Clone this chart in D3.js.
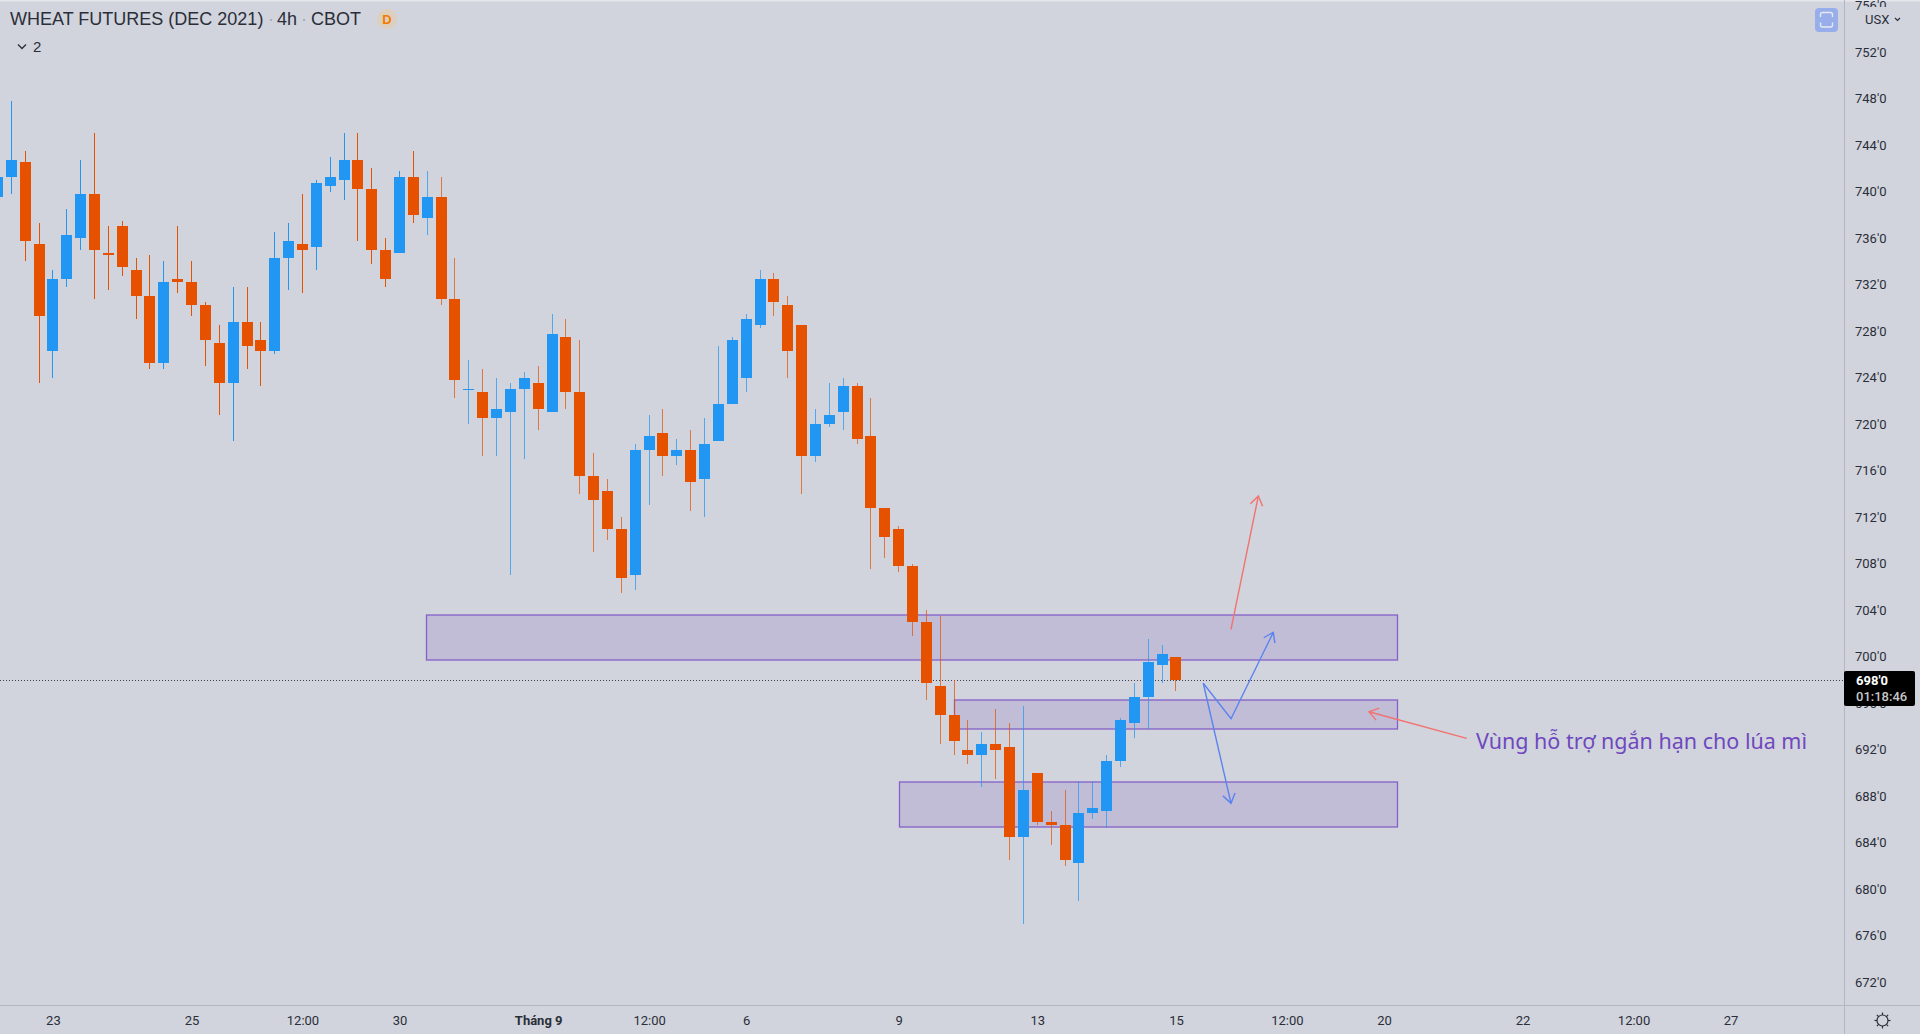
<!DOCTYPE html>
<html>
<head>
<meta charset="utf-8">
<title>Wheat Futures 4h</title>
<script src="https://cdn.jsdelivr.net/npm/d3@7"></script>
<style>
  html, body { margin: 0; padding: 0; background: #d1d4dc; overflow: hidden; }
  svg { display: block; }
  text { font-family: "Liberation Sans", Arial, sans-serif; }
  .axis path, .axis line { display: none; }
  .axis text { font-family: Roboto, sans-serif; font-size: 13px; fill: #2a2e39; }
  .axis .major { font-weight: 700; }
</style>
</head>
<body>
<svg id="chart" width="1920" height="1034"></svg>
<script>
// Wheat futures, December 2021 contract, 4-hour candles (US cents per bushel)
const opens = [739.5,741.25,742.5,735.5,726.25,732.5,736,739.75,734.75,737,733.25,731,725.25,732.5,732.25,730.25,727,723.5,728.75,727.25,726.25,734.25,735.5,735.25,740.5,741,742.75,740.25,735,734.75,741.25,737.75,739.5,730.75,723,722.75,720.5,721,723,723.5,721,727.5,722.75,715.5,714.25,711,707,717.75,719.25,717.25,717.75,715.25,718.5,721.75,724,728.5,732.5,730.25,728.5,717.25,720,721,723.25,719,712.75,711,707.75,703,697.5,695,692,691.5,692.5,692.25,684.5,690,685.75,685.5,682.25,686.5,686.75,691,694.25,696.5,699.25,700];
const highs = [741.5,747.75,743.5,737.25,733.25,738.5,742.75,745,737,737.5,734.25,734.5,734,737,734,730.5,728.5,731.75,731.75,728.75,736.5,737.25,739.75,741,743,745,745,742,736,741.75,743.5,741.75,741.25,734.25,725.5,724.75,724,723.5,724.5,725,729.5,729,727.25,717.5,715.25,712,718.25,720.75,721.25,718.75,719.5,720.5,726.75,727.5,729.5,733.25,733,731,728.5,721.25,723.5,724,723.5,722.25,712.75,711.25,708,704,703.5,698,694.5,693.5,695.5,694.25,695.75,690,686.75,688.5,689.25,689.25,691.5,694.75,697.75,701.5,701,700];
const lows = [739.25,739.75,734,723.5,724,731.75,735,730.75,731.5,732.75,729,724.75,724.75,731.25,729.25,725,720.75,718.5,724.75,723.25,726,731.5,731.25,733.25,740,739.25,735.75,733.75,731.75,734.75,737.25,736.25,730.25,722.25,720,717.25,717.25,707,717,719.5,721,721.25,714,709,710,705.5,705.75,713,715.5,716.5,712.5,712,718.5,721.75,722.75,728.25,729.25,724,714,716.75,719.75,719.5,718.25,707.5,708.5,707.25,701.75,696.25,692.5,691.5,690.75,688.75,689.5,682.5,677,685.5,683.75,682,679,686,685.25,690.5,693,693.75,697.75,697];
const closes = [741.25,742.75,735.75,729.25,732.5,736.25,739.75,735,734.5,733.5,731,725.25,732.25,732.25,730.25,727.25,723.5,728.75,726.75,726.25,734.25,735.75,735,740.75,741.25,742.75,740.25,735,732.5,741.25,738,739.5,730.75,723.75,723,720.5,721.25,723,724,721.25,727.75,722.75,715.5,713.5,711,706.75,717.75,719,717.25,717.75,715,718.25,721.75,727.25,729,732.5,730.5,726.25,717.25,720,720.75,723.25,718.75,712.75,710.25,707.75,703,697.75,695,692.75,691.5,692.5,692,684.5,688.5,685.75,685.5,682.5,686.5,687,691,694.5,696.5,699.5,700.25,698];

const priceTicks = [756,752,748,744,740,736,732,728,724,720,716,712,708,704,700,696,692,688,684,680,676,672];

// Time axis: bar index and its label; month starts are set in bold
const timeTickIndex = [4,14,22,29,39,47,54,65,75,85,93,100,110,118,125];
const timeTickLabels = ["23","25","12:00","30","Tháng 9","12:00","6","9","13","15","12:00","20","22","12:00","27"];
const boldLabels = ["Tháng 9"];

// Support zones in [first bar, last bar, upper price, lower price]
const zones = [
  [30.9, 100.94, 703.57, 699.7],
  [69, 100.94, 696.26, 693.76],
  [65.02, 100.94, 689.2, 685.33]
];

// Scenario arrows as [bar, price] vertices; the head sits on the last vertex
const arrows = [
  { color: "#f2726f", pts: [[88.97,702.34],[90.94,713.8]] },
  { color: "#5a83f0", pts: [[86.97,697.7],[88.97,694.65],[92.02,702.08]] },
  { color: "#5a83f0", pts: [[86.97,697.7],[88.97,687.37]] },
  { color: "#f2726f", pts: [[105.97,692.96],[98.92,695.25]] }
];

const lastPrice = 698;
const upColor = "#2196f3", downColor = "#e65100";

const W = 1920, H = 1034, plotR = 1844, plotB = 1005;
const x = d3.scaleLinear().domain([0, 1]).range([-2.56, 11.305]);
const y = d3.scaleLinear().domain([752, 672]).range([52, 982]);
const candles = opens.map((o, i) => ({ i, o, h: highs[i], l: lows[i], c: closes[i] }));
const colorOf = d => d.c >= d.o ? upColor : downColor;

const svg = d3.select("#chart");
svg.append("rect").attr("width", W).attr("height", H).attr("fill", "#d1d4dc");
svg.append("rect").attr("width", W).attr("height", 1.5).attr("fill", "#e4e6ec");

// Zones sit behind the candles
svg.append("g").selectAll("rect").data(zones).join("rect")
  .attr("x", d => Math.round(x(d[0])) + 0.5)
  .attr("y", d => Math.round(y(d[2])))
  .attr("width", d => Math.round(x(d[1]) - x(d[0])))
  .attr("height", d => Math.round(y(d[3]) - y(d[2])))
  .attr("fill", "#c1bdd7")
  .attr("stroke", "#8560c8")
  .attr("stroke-width", 1.3);

// Last price line
svg.append("line")
  .attr("x1", 0).attr("x2", plotR)
  .attr("y1", Math.round(y(lastPrice)) + 0.5).attr("y2", Math.round(y(lastPrice)) + 0.5)
  .attr("stroke", "#3c3f4a").attr("stroke-dasharray", "1,2");

// Candles
const candle = svg.append("g").selectAll("g").data(candles).join("g");
candle.append("rect")
  .attr("x", d => Math.floor(x(d.i)))
  .attr("width", 1)
  .attr("y", d => Math.round(y(d.h)))
  .attr("height", d => Math.max(1, Math.round(y(d.l)) - Math.round(y(d.h))))
  .attr("fill", colorOf)
  .attr("fill-opacity", d => d.i > 30 ? 0.72 : 1);
candle.append("rect")
  .attr("x", d => Math.floor(x(d.i)) - 5)
  .attr("width", 11)
  .attr("y", d => Math.round(y(Math.max(d.o, d.c))))
  .attr("height", d => Math.max(1, Math.round(y(Math.min(d.o, d.c))) - Math.round(y(Math.max(d.o, d.c)))))
  .attr("fill", colorOf);

// Arrows with open heads
const lineGen = d3.line().x(p => x(p[0])).y(p => y(p[1]));
const headPath = a => {
  const n = a.pts.length;
  const x1 = x(a.pts[n - 1][0]), y1 = y(a.pts[n - 1][1]);
  const x0 = x(a.pts[n - 2][0]), y0 = y(a.pts[n - 2][1]);
  const ang = Math.atan2(y1 - y0, x1 - x0), len = 11, spread = 0.6;
  return d3.line()([
    [x1 - len * Math.cos(ang - spread), y1 - len * Math.sin(ang - spread)],
    [x1, y1],
    [x1 - len * Math.cos(ang + spread), y1 - len * Math.sin(ang + spread)]
  ]);
};
const arrow = svg.append("g").attr("fill", "none").attr("stroke-width", 1.4)
  .selectAll("g").data(arrows).join("g").attr("stroke", d => d.color);
arrow.append("path").attr("d", d => lineGen(d.pts));
arrow.append("path").attr("d", headPath);

// Zone note
svg.append("text")
  .attr("x", 1476).attr("y", 749)
  .attr("fill", "#6f48c0")
  .style("font-family", "'Noto Sans', sans-serif")
  .style("font-size", "21.5px")
  .text("Vùng hỗ trợ ngắn hạn cho lúa mì");

// Axis panel dividers
svg.append("line").attr("x1", plotR + 0.5).attr("x2", plotR + 0.5).attr("y1", 0).attr("y2", H).attr("stroke", "#b4b7c0");
svg.append("line").attr("x1", 0).attr("x2", W).attr("y1", plotB + 0.5).attr("y2", plotB + 0.5).attr("stroke", "#b4b7c0");

// Price axis
svg.append("g").attr("class", "axis").attr("transform", `translate(${plotR + 11},0)`)
  .call(d3.axisRight(y).tickValues(priceTicks).tickSize(0).tickPadding(0).tickFormat(d => `${d}'0`));

// Time axis
svg.append("g").attr("class", "axis").attr("transform", `translate(0,${plotB + 11})`)
  .call(d3.axisBottom(x).tickValues(timeTickIndex).tickSize(0).tickPadding(0)
    .tickFormat(d => timeTickLabels[timeTickIndex.indexOf(d)]))
  .selectAll("text").classed("major", t => boldLabels.includes(timeTickLabels[timeTickIndex.indexOf(t)]));

// Last price tag with the bar countdown
svg.append("rect").attr("x", plotR).attr("y", 671).attr("width", 71).attr("height", 35).attr("rx", 2).attr("fill", "#000");
svg.append("text").attr("x", 1856).attr("y", 685).attr("fill", "#fff")
  .style("font-family", "Roboto, sans-serif").style("font-size", "13px").style("font-weight", 700)
  .text(`${lastPrice}'0`);
svg.append("text").attr("x", 1856).attr("y", 701).attr("fill", "#c8c8c8")
  .style("font-family", "Roboto, sans-serif").style("font-size", "13px").style("font-weight", 500)
  .text("01:18:46");

// Currency selector
svg.append("rect").attr("x", 1860).attr("y", 7).attr("width", 46).attr("height", 20).attr("fill", "#d1d4dc");
svg.append("text").attr("x", 1865).attr("y", 24).attr("fill", "#2a2e39")
  .style("font-family", "Roboto, sans-serif").style("font-size", "13px").text("USX");
svg.append("path").attr("d", "M1895 18l2.5 2.5 2.5-2.5").attr("fill", "none").attr("stroke", "#2a2e39").attr("stroke-width", 1.2);

// Auto-scale button
svg.append("rect").attr("x", 1815).attr("y", 8).attr("width", 23).attr("height", 24).attr("rx", 4).attr("fill", "#98aeea");
svg.append("path")
  .attr("d", "M1820.5 17v-2.5a2 2 0 0 1 2-2h8a2 2 0 0 1 2 2v2.5M1820.5 22.5v2.5a2 2 0 0 0 2 2h8a2 2 0 0 0 2-2v-2.5")
  .attr("fill", "none").attr("stroke", "#e6e9f4").attr("stroke-width", 1.4);

// Settings icon
const gear = svg.append("g").attr("transform", "translate(1882.5,1020.5)").attr("fill", "none").attr("stroke", "#2a2e39").attr("stroke-width", 1.2);
gear.append("circle").attr("r", 5.5);
gear.selectAll("line").data(d3.range(8)).join("line")
  .attr("x1", d => 5.5 * Math.cos(d * Math.PI / 4)).attr("y1", d => 5.5 * Math.sin(d * Math.PI / 4))
  .attr("x2", d => 8 * Math.cos(d * Math.PI / 4)).attr("y2", d => 8 * Math.sin(d * Math.PI / 4));

// Legend header
const head = svg.append("g").style("font-size", "18px").attr("fill", "#2a2e39");
head.append("text").attr("x", 10).attr("y", 25).text("WHEAT FUTURES (DEC 2021)");
head.append("text").attr("x", 268).attr("y", 25).attr("fill", "#a6a9b3").text("·");
head.append("text").attr("x", 277).attr("y", 25).text("4h");
head.append("text").attr("x", 301).attr("y", 25).attr("fill", "#a6a9b3").text("·");
head.append("text").attr("x", 311).attr("y", 25).text("CBOT");
svg.append("circle").attr("cx", 387).attr("cy", 19).attr("r", 10).attr("fill", "#ddcfbd");
svg.append("text").attr("x", 387).attr("y", 24).attr("text-anchor", "middle").attr("fill", "#f57c00")
  .style("font-size", "13px").style("font-weight", 700).text("D");
svg.append("path").attr("d", "M18 44.5l4 4 4-4").attr("fill", "none").attr("stroke", "#2a2e39").attr("stroke-width", 1.3);
svg.append("text").attr("x", 33).attr("y", 52).attr("fill", "#2a2e39").style("font-size", "15px").text("2");
</script>
</body>
</html>
